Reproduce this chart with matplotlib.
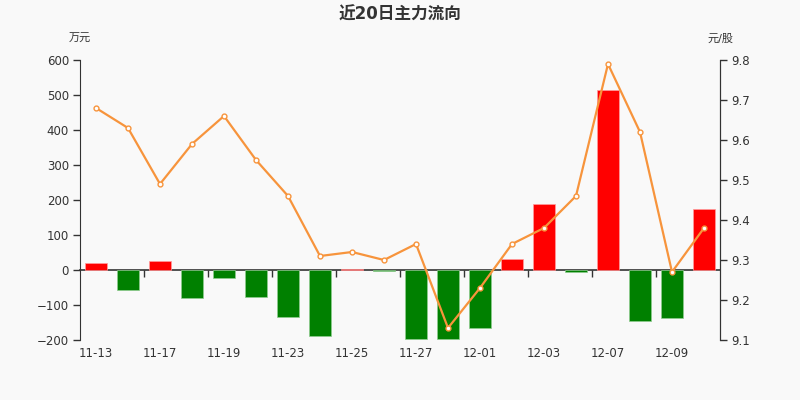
import matplotlib
matplotlib.use('Agg')
import matplotlib.pyplot as plt
import numpy as np

plt.rcParams['font.family'] = ['DejaVu Sans', 'Noto Sans CJK SC']

# data
dates = ['11-13', '11-16', '11-17', '11-18', '11-19', '11-20', '11-23', '11-24',
         '11-25', '11-26', '11-27', '11-30', '12-01', '12-02', '12-03', '12-04',
         '12-07', '12-08', '12-09', '12-10']
flow = [19, -57, 27, -80, -24, -76, -133, -188, 4, -4,
        -197, -197, -165, 31, 189, -6, 513, -146, -137, 173]      # 万元
price = [9.68, 9.63, 9.49, 9.59, 9.66, 9.55, 9.46, 9.31, 9.32, 9.30,
         9.34, 9.13, 9.23, 9.34, 9.38, 9.46, 9.79, 9.62, 9.27, 9.38]  # 元/股

txt = '#333333'
fig = plt.figure(figsize=(8, 4), dpi=100, facecolor='#f9f9f9')
ax = fig.add_axes([0.1, 0.15, 0.8, 0.7])
ax.set_facecolor('#f9f9f9')

x = np.arange(len(dates))
cols = ['#ff0000' if v >= 0 else '#008000' for v in flow]
edges = ['#ff9c9c' if v >= 0 else '#8fcc8f' for v in flow]
ax.bar(x, flow, width=0.7, color=cols, edgecolor=edges, linewidth=0.5, zorder=2)

ax.set_xlim(-0.5, len(dates) - 0.5)
ax.set_ylim(-200, 600)
ax.set_yticks(range(-200, 601, 100))

# x labels at bottom, no tick marks there
ax.set_xticks(x[::2])
ax.set_xticklabels(dates[::2])
ax.tick_params(axis='x', length=0, pad=5, labelsize=8.5, colors=txt)
ax.tick_params(axis='y', length=5, width=1, labelsize=8.5, colors=txt, pad=3)
ax.spines['top'].set_visible(False)
ax.spines['bottom'].set_visible(False)
for s in ('left', 'right'):
    ax.spines[s].set_color(txt)

# axis line with ticks at zero
loc0 = (0 - (-200)) / 800
sec = ax.secondary_xaxis(loc0)
sec.set_xticks(np.arange(1.5, len(dates) - 1, 2))
sec.set_xticklabels([])
sec.tick_params(length=5, width=1, colors=txt, direction='out')
sec.spines['bottom'].set_color(txt)
sec.spines['bottom'].set_linewidth(1.2)

ax2 = ax.twinx()
ax2.plot(x, price, color='#f7943c', lw=1.6, marker='o', ms=3.5,
         mfc='white', mec='#f7943c', mew=1, zorder=3)
ax2.set_ylim(9.1, 9.8)
ax2.set_yticks([9.1, 9.2, 9.3, 9.4, 9.5, 9.6, 9.7, 9.8])
ax2.tick_params(axis='y', length=5, width=1, labelsize=8.5, colors=txt, pad=3)
for s in ('top', 'bottom', 'left'):
    ax2.spines[s].set_visible(False)
ax2.spines['right'].set_color(txt)

fig.text(0.5, 0.963, '近20日主力流向', ha='center', va='center', fontsize=12,
         color=txt, fontweight='bold')
fig.text(0.1, 0.903, '万元', ha='center', va='center', fontsize=8, color=txt)
fig.text(0.9, 0.903, '元/股', ha='center', va='center', fontsize=8, color=txt)

fig.savefig('out.png', dpi=100, facecolor=fig.get_facecolor())
